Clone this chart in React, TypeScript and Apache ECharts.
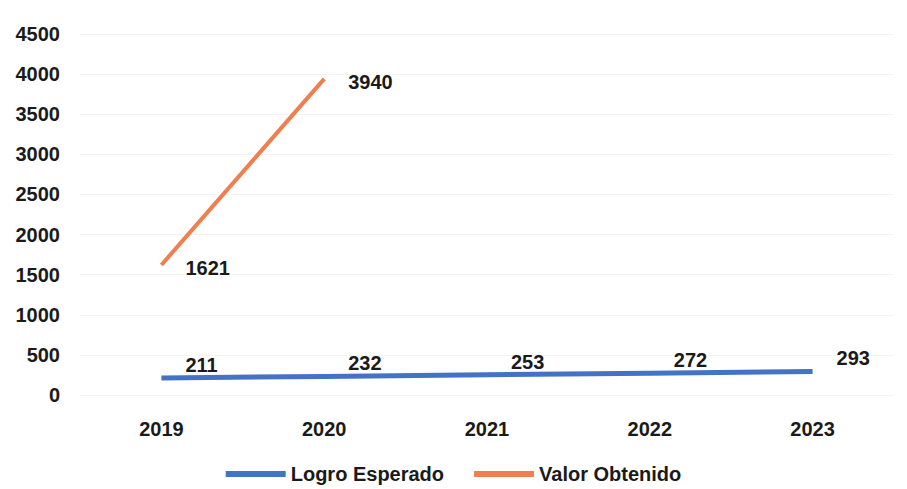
import React, { useEffect, useRef } from "react";
import * as echarts from "echarts";

const categories = ["2019", "2020", "2021", "2022", "2023"];
const logroEsperado = [211, 232, 253, 272, 293];
const valorObtenido = [1621, 3940, null, null, null];
const yTicks = { min: 0, max: 4500, interval: 500 };

const FONT = "'Liberation Sans', Arial, sans-serif";

export default function App() {
  const ref = useRef<HTMLDivElement>(null);
  useEffect(() => {
    if (!ref.current) return;
    const chart = echarts.init(ref.current, null, { renderer: "svg" });
    const labelStyle = {
      show: true,
      position: "right",
      distance: 24,
      color: "#1a1a1a",
      fontFamily: FONT,
      fontWeight: "bold",
      fontSize: 20,
    };
    chart.setOption({
      animation: false,
      backgroundColor: "#ffffff",
      grid: { left: 80, right: 13, top: 34, bottom: 94, containLabel: false },
      legend: {
        bottom: 0,
        left: "center",
        itemWidth: 60,
        itemHeight: 6,
        itemGap: 30,
        textStyle: { fontFamily: FONT, fontWeight: "bold", fontSize: 20, color: "#1a1a1a" },
        data: [
          { name: "Logro Esperado", icon: "rect", itemStyle: { color: "#4472C4", opacity: 1 } },
          { name: "Valor Obtenido", icon: "rect", itemStyle: { color: "#F07F4F", opacity: 1 } },
        ],
      },
      xAxis: {
        type: "category",
        data: categories,
        boundaryGap: true,
        axisLine: { show: false },
        axisTick: { show: false },
        axisLabel: {
          margin: 24,
          fontFamily: FONT,
          fontWeight: "bold",
          fontSize: 20,
          color: "#1a1a1a",
        },
      },
      yAxis: {
        type: "value",
        min: yTicks.min,
        max: yTicks.max,
        interval: yTicks.interval,
        axisLine: { show: false },
        axisTick: { show: false },
        splitLine: { lineStyle: { color: "#f4f4f4", width: 1 } },
        axisLabel: {
          margin: 20,
          fontFamily: FONT,
          fontWeight: "bold",
          fontSize: 20,
          color: "#1a1a1a",
          formatter: (v: number) => String(v),
        },
      },
      series: [
        {
          name: "Logro Esperado",
          type: "line",
          data: logroEsperado,
          showSymbol: true,
          symbol: "circle",
          symbolSize: 0,
          itemStyle: { color: "#4472C4" },
          lineStyle: { color: "#4472C4", width: 5 },
          label: { ...labelStyle, offset: [0, -13] },
        },
        {
          name: "Valor Obtenido",
          type: "line",
          data: valorObtenido,
          showSymbol: true,
          symbol: "circle",
          symbolSize: 0,
          itemStyle: { color: "#F07F4F" },
          lineStyle: { color: "#F07F4F", width: 4 },
          label: { ...labelStyle, offset: [0, 3] },
        },
      ],
    });
    return () => chart.dispose();
  }, []);
  return <div ref={ref} style={{ width: 907, height: 489, position: "absolute", left: 0, top: 0 }} />;
}
